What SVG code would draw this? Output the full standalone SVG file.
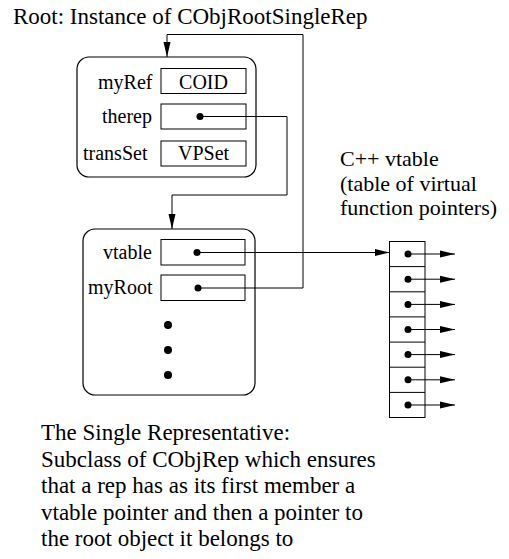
<svg xmlns="http://www.w3.org/2000/svg" width="509" height="559" viewBox="0 0 509 559">
<style>
text{font-family:"Liberation Serif","Times New Roman",serif;fill:#000}
.big{font-size:23px}
.cap{font-size:22px}
.lab{font-size:20px}
.frame{fill:none;stroke:#000;stroke-width:1.2}
.cell{fill:none;stroke:#000;stroke-width:1}
.wire{fill:none;stroke:#000;stroke-width:1}
.dot{fill:#000}
</style>
<defs>
<marker id="ah" markerWidth="15" markerHeight="8" refX="15" refY="4" orient="auto" markerUnits="userSpaceOnUse">
<path d="M0,0.5 L15,4 L0,7.5 Z" fill="#000"/>
</marker>
</defs>
<rect width="509" height="559" fill="#fff"/>
<text class="big" x="13" y="24">Root: Instance of CObjRootSingleRep</text>

<g id="root-object">
<rect class="frame" x="77" y="57" width="179" height="120" rx="12"/>
<text class="lab" x="98" y="89">myRef</text>
<rect class="cell" x="161" y="68.5" width="85" height="25"/>
<text class="lab" x="203.5" y="89" text-anchor="middle">COID</text>
<text class="lab" x="102" y="123">therep</text>
<rect class="cell" x="161" y="104" width="85" height="25"/>
<circle class="dot" cx="200" cy="116.5" r="3.5"/>
<text class="lab" x="83" y="160">transSet</text>
<rect class="cell" x="161" y="141" width="85" height="25"/>
<text class="lab" x="203.5" y="160" text-anchor="middle">VPSet</text>
</g>

<g id="single-rep">
<rect class="frame" x="83" y="229" width="172" height="166" rx="12"/>
<text class="lab" x="103" y="259">vtable</text>
<rect class="cell" x="161" y="239.5" width="84" height="25.5"/>
<circle class="dot" cx="197" cy="252.5" r="3.5"/>
<text class="lab" x="88" y="294">myRoot</text>
<rect class="cell" x="161" y="275" width="84" height="25.5"/>
<circle class="dot" cx="198" cy="288" r="3.5"/>
<circle class="dot" cx="168" cy="325" r="4"/>
<circle class="dot" cx="168" cy="350" r="4"/>
<circle class="dot" cx="168" cy="375" r="4"/>
</g>

<g id="vtable">
<rect class="cell" x="389.5" y="241.5" width="35.5" height="176"/>
<path class="cell" d="M389.5,266.6H425M389.5,291.8H425M389.5,316.9H425M389.5,342.1H425M389.5,367.2H425M389.5,392.4H425"/>
<g class="dot">
<circle cx="408" cy="254" r="3.5"/><circle cx="408" cy="279.2" r="3.5"/><circle cx="408" cy="304.4" r="3.5"/><circle cx="408" cy="329.5" r="3.5"/><circle cx="408" cy="354.6" r="3.5"/><circle cx="408" cy="379.8" r="3.5"/><circle cx="408" cy="405" r="3.5"/>
</g>
</g>

<g id="vtable-caption">
<text class="cap" x="340" y="166">C++ vtable</text>
<text class="cap" x="340" y="190.5">(table of virtual</text>
<text class="cap" x="340" y="215">function pointers)</text>
</g>

<g id="description">
<text class="big" x="41" y="440">The Single Representative:</text>
<text class="big" x="41" y="466.5">Subclass of CObjRep which ensures</text>
<text class="big" x="41" y="493">that a rep has as its first member a</text>
<text class="big" x="41" y="519.5">vtable pointer and then a pointer to</text>
<text class="big" x="41" y="546">the root object it belongs to</text>
</g>

<g id="connectors">
<path class="wire" d="M200,116.5H287V195H172V229" marker-end="url(#ah)"/>
<path class="wire" d="M198,288H303V34.5H167V57" marker-end="url(#ah)"/>
<path class="wire" d="M197,252.5H389.5" marker-end="url(#ah)"/>
<path class="wire" d="M408,254H455" marker-end="url(#ah)"/>
<path class="wire" d="M408,279.2H455" marker-end="url(#ah)"/>
<path class="wire" d="M408,304.4H455" marker-end="url(#ah)"/>
<path class="wire" d="M408,329.5H455" marker-end="url(#ah)"/>
<path class="wire" d="M408,354.6H455" marker-end="url(#ah)"/>
<path class="wire" d="M408,379.8H455" marker-end="url(#ah)"/>
<path class="wire" d="M408,405H455" marker-end="url(#ah)"/>
</g>
</svg>
